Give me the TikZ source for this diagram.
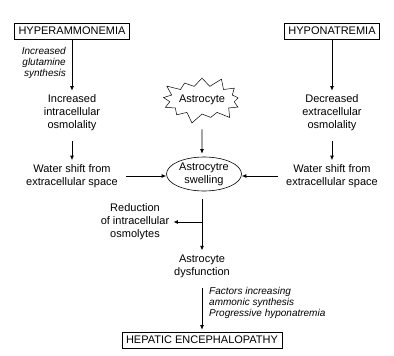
\documentclass[tikz,border=0pt]{standalone}
\usepackage{fontspec}
\setmainfont{Liberation Sans}
\usetikzlibrary{arrows.meta,shapes.geometric,shapes.symbols}

\tikzset{
	box/.style={draw, line width=0.6pt, inner xsep=4pt, minimum height=16pt},
	txt/.style={align=center, inner sep=4pt},
	note/.style={font=\fontsize{10}{11}\selectfont\itshape, inner sep=0pt},
	arr/.style={line width=0.8pt, -{Latex[length=4.5pt,width=4pt]}}
}

\begin{document}
\begin{tikzpicture}[x=1pt, y=-1pt, font=\fontsize{11}{13}\selectfont]
	\useasboundingbox (0,0) rectangle (394,356);

	% causes
	\node [box] (hyper) at (72,31) {HYPERAMMONEMIA};
	\node [box] (hypon) at (332,31) {HYPONATREMIA};

	% left column
	\node [txt] (incr) at (72,113) {Increased\\intracellular\\osmolality};
	\node [txt] (wl) at (72,176) {Water shift from\\extracellular space};
	\node [note, anchor=east, align=right] (glut) at (66,63) {Increased\\glutamine\\synthesis};

	% right column
	\node [txt] (decr) at (332,113) {Decreased\\extracellular\\osmolality};
	\node [txt] (wr) at (332,176) {Water shift from\\extracellular space};

	% middle column
	\node [starburst, draw, line width=0.5pt, starburst points=13, starburst point height=11pt,
		inner xsep=0pt, inner ysep=5pt] (astro) at (202,100) {Astrocyte};
	\node [ellipse, draw, line width=0.6pt, align=center, minimum width=75pt, minimum height=34pt,
		inner sep=0pt] (swell) at (204,174) {Astrocytre\\swelling};
	\node [txt] (reduc) at (135,222) {Reduction\\of intracellular\\osmolytes};
	\node [txt] (dysf) at (202,266) {Astrocyte\\dysfunction};
	\node [note, anchor=west, align=left] (fact) at (209,303) {Factors increasing\\ammonic synthesis\\Progressive hyponatremia};
	\node [box] (hepat) at (202,340) {HEPATIC ENCEPHALOPATHY};

	% connectors
	\draw [arr] (hyper) -- (incr);
	\draw [arr, shorten <=6pt] (incr) -- (wl);
	\draw [arr] (hypon) -- (decr);
	\draw [arr, shorten <=6pt] (decr) -- (wr);
	\draw [arr, shorten <=4pt] (wl) -- (wl -| swell.west);
	\draw [arr, shorten <=4pt] (wr) -- (wr -| swell.east);
	\draw [arr, shorten <=15pt, shorten >=3pt] (astro) -- (astro |- swell.north);
	\draw [arr, shorten <=8pt] (dysf |- swell.south) -- (dysf);
	\coordinate (fork) at (dysf |- reduc.east);
	\draw [arr] (fork) -- (reduc);
	\draw [arr, shorten <=6pt, shorten >=2pt] (dysf) -- (hepat);
\end{tikzpicture}
\end{document}
